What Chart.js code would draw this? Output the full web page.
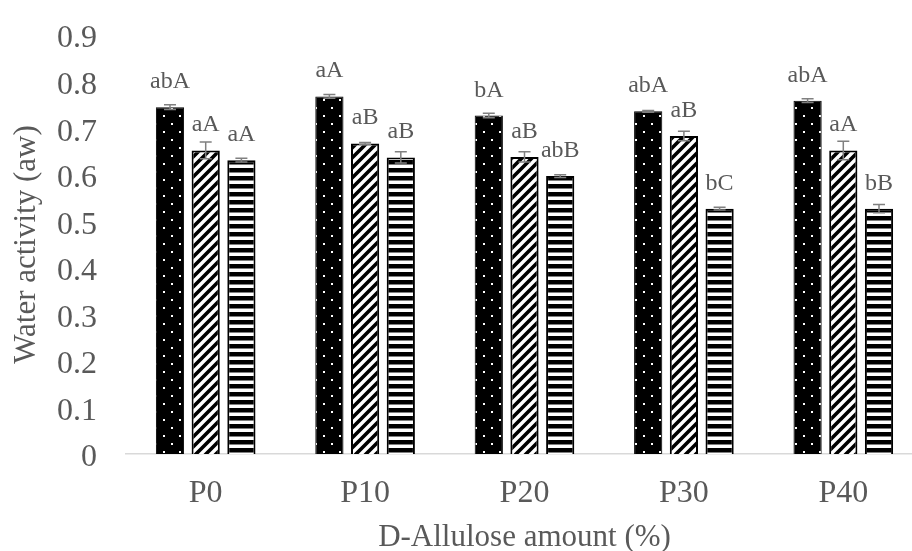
<!DOCTYPE html>
<html>
<head>
<meta charset="utf-8">
<script src="https://cdn.jsdelivr.net/npm/chart.js@4.4.0/dist/chart.umd.min.js"></script>
<style>
html, body { margin: 0; padding: 0; background: #fff; overflow: hidden; }
#wrap { width: 924px; height: 551px; }
</style>
</head>
<body>
<div id="wrap"><canvas id="chart" width="924" height="551"></canvas></div>
<script>
// Values
const categories = [ 'P0', 'P10', 'P20', 'P30', 'P40' ];

const dottedValues = [ 0.745, 0.768, 0.727, 0.736, 0.759 ];
const dottedErrors = [ 0.005, 0.004, 0.005, 0.002, 0.004 ];
const dottedLetters = [ 'abA', 'aA', 'bA', 'abA', 'abA' ];

const hatchedValues = [ 0.652, 0.667, 0.638, 0.683, 0.652 ];
const hatchedErrors = [ 0.018, 0.002, 0.011, 0.010, 0.020 ];
const hatchedLetters = [ 'aA', 'aB', 'aB', 'aB', 'aA' ];

const stripedValues = [ 0.631, 0.637, 0.597, 0.527, 0.527 ];
const stripedErrors = [ 0.004, 0.012, 0.003, 0.003, 0.009 ];
const stripedLetters = [ 'aA', 'aB', 'abB', 'bC', 'bB' ];

const yTickValues = [ 0, 0.1, 0.2, 0.3, 0.4, 0.5, 0.6, 0.7, 0.8, 0.9 ];
const yTickLabels = [ '0', '0.1', '0.2', '0.3', '0.4', '0.5', '0.6', '0.7', '0.8', '0.9' ];

const textGrey = '#595959';
const serif = '"Liberation Serif", "Times New Roman", serif';

// Fill patterns like the Excel ones
function makePattern( kind ) {
	const c = document.createElement( 'canvas' );
	const g = c.getContext( '2d' );
	if ( kind === 'dots' ) {
		c.width = 16; c.height = 16;
		g.fillStyle = '#000';
		g.fillRect( 0, 0, 16, 16 );
		g.fillStyle = '#fff';
		g.fillRect( 3, 3, 2, 2 );
		g.fillRect( 11, 11, 2, 2 );
	} else if ( kind === 'diag' ) {
		c.width = 10; c.height = 10;
		g.fillStyle = '#fff';
		g.fillRect( 0, 0, 10, 10 );
		g.strokeStyle = '#000';
		g.lineWidth = 3.6;
		g.beginPath();
		g.moveTo( -5, 5 ); g.lineTo( 5, -5 );
		g.moveTo( 0, 10 ); g.lineTo( 10, 0 );
		g.moveTo( 5, 15 ); g.lineTo( 15, 5 );
		g.stroke();
	} else {
		c.width = 8; c.height = 8;
		g.fillStyle = '#fff';
		g.fillRect( 0, 0, 8, 8 );
		g.fillStyle = '#000';
		g.fillRect( 0, 0, 8, 4.5 );
	}
	return g.createPattern( c, 'repeat' );
}

// Error bars and significance letters
const errorBars = {
	id: 'errorBars',
	afterDatasetsDraw: function ( chart ) {
		const ctx = chart.ctx;
		const y = chart.scales.y;
		chart.data.datasets.forEach( function ( ds, i ) {
			const meta = chart.getDatasetMeta( i );
			meta.data.forEach( function ( bar, j ) {
				const v = ds.data[ j ];
				const e = ds.errors[ j ];
				const top = y.getPixelForValue( v + e );
				const bot = y.getPixelForValue( v - e );
				ctx.save();
				ctx.strokeStyle = '#808080';
				ctx.lineWidth = 1.5;
				ctx.beginPath();
				ctx.moveTo( bar.x, top ); ctx.lineTo( bar.x, bot );
				ctx.moveTo( bar.x - 6, top ); ctx.lineTo( bar.x + 6, top );
				ctx.moveTo( bar.x - 6, bot ); ctx.lineTo( bar.x + 6, bot );
				ctx.stroke();
				ctx.fillStyle = textGrey;
				ctx.font = '24px ' + serif;
				ctx.textAlign = 'center';
				ctx.textBaseline = 'alphabetic';
				ctx.fillText( ds.letters[ j ], bar.x, bar.y - 19 );
				ctx.restore();
			} );
		} );
	}
};

const canvas = document.getElementById( 'chart' );

new Chart( canvas, {
	type: 'bar',
	data: {
		labels: categories,
		datasets: [ {
			label: 'Series 1',
			data: dottedValues,
			errors: dottedErrors,
			letters: dottedLetters,
			backgroundColor: makePattern( 'dots' ),
			borderColor: '#000',
			borderWidth: 1
		}, {
			label: 'Series 2',
			data: hatchedValues,
			errors: hatchedErrors,
			letters: hatchedLetters,
			backgroundColor: makePattern( 'diag' ),
			borderColor: '#000',
			borderWidth: 2
		}, {
			label: 'Series 3',
			data: stripedValues,
			errors: stripedErrors,
			letters: stripedLetters,
			backgroundColor: makePattern( 'hlines' ),
			borderColor: '#000',
			borderWidth: 2
		} ]
	},
	options: {
		responsive: false,
		animation: false,
		events: [],
		categoryPercentage: 0.672,
		barPercentage: 0.79,
		layout: {
			padding: { top: 35, right: 1, bottom: 0, left: 0 }
		},
		plugins: {
			legend: { display: false },
			tooltip: { enabled: false }
		},
		scales: {
			x: {
				grid: { display: false, drawTicks: false },
				border: { display: true, color: '#d9d9d9', width: 1.5 },
				ticks: {
					color: textGrey,
					padding: 20,
					font: { family: serif, size: 32 }
				},
				title: {
					display: true,
					text: 'D-Allulose amount (%)',
					color: textGrey,
					padding: 0,
					font: { family: serif, size: 31, lineHeight: 0.85 }
				},
				afterFit: function ( s ) { s.height = 97; }
			},
			y: {
				min: 0,
				max: 0.9,
				grid: { display: false, drawTicks: false },
				border: { display: false },
				afterBuildTicks: function ( s ) {
					s.ticks = yTickValues.map( ( v ) => ( { value: v } ) );
				},
				ticks: {
					color: textGrey,
					padding: 29,
					labelOffset: 4,
					font: { family: serif, size: 32 },
					callback: function ( v ) {
						const i = yTickValues.findIndex( ( t ) => Math.abs( t - v ) < 1e-9 );
						return i >= 0 ? yTickLabels[ i ] : '';
					}
				},
				title: {
					display: true,
					text: 'Water activity (aw)',
					color: textGrey,
					padding: { top: 8, bottom: 0 },
					font: { family: serif, size: 31 }
				},
				afterFit: function ( s ) {
					s.width = 126;
					s.paddingTop = 0;
					s.paddingBottom = 0;
				}
			}
		}
	},
	plugins: [ errorBars ]
} );
</script>
</body>
</html>
